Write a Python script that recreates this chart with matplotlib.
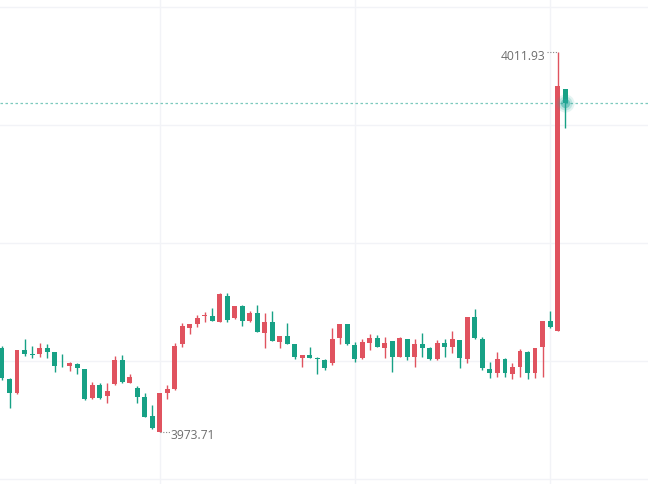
import numpy as np
import matplotlib
matplotlib.use('Agg')
import matplotlib.pyplot as plt

# OHLC values (red = rising, green = falling)
opens = [3982.17, 3979.01, 3977.60, 3981.93, 3981.53, 3981.53, 3982.13, 3981.73, 3980.35, 3980.32,
         3980.53, 3980.02, 3977.10, 3978.41, 3977.30, 3978.51, 3980.93, 3978.64, 3978.11, 3977.23,
         3975.29, 3973.71, 3977.63, 3977.98, 3982.51, 3984.18, 3984.58, 3985.36, 3985.36, 3984.78,
         3987.37, 3985.12, 3986.37, 3984.85, 3985.63, 3983.62, 3984.72, 3982.77, 3983.34, 3982.51,
         3981.16, 3981.43, 3981.16, 3980.93, 3980.66, 3983.17, 3984.55, 3982.44, 3981.10, 3982.67,
         3983.17, 3982.10, 3982.84, 3981.26, 3983.04, 3981.26, 3982.51, 3982.10, 3981.00, 3982.67,
         3982.27, 3982.94, 3981.03, 3985.29, 3983.04, 3980.02, 3979.59, 3981.03, 3979.52, 3980.25,
         3981.70, 3979.65, 3982.20, 3984.85, 3983.88, 4008.18]
highs = [3982.34, 3979.12, 3981.98, 3983.04, 3982.34, 3982.64, 3982.54, 3981.78, 3981.53, 3980.73,
         3980.63, 3980.05, 3978.71, 3978.61, 3978.61, 3981.33, 3981.43, 3979.52, 3978.31, 3977.60,
         3976.40, 3977.60, 3978.41, 3982.61, 3984.62, 3984.58, 3985.46, 3985.79, 3986.19, 3987.64,
         3987.64, 3986.40, 3986.47, 3985.86, 3986.47, 3985.63, 3985.86, 3983.36, 3984.62, 3982.54,
         3981.45, 3982.27, 3981.26, 3981.03, 3984.12, 3984.58, 3984.58, 3982.77, 3983.01, 3983.51,
         3983.44, 3983.27, 3982.87, 3983.20, 3983.07, 3983.04, 3983.62, 3982.27, 3982.94, 3983.01,
         3983.88, 3982.99, 3985.26, 3986.03, 3983.21, 3980.76, 3981.70, 3981.10, 3980.60, 3982.03,
         3981.86, 3982.13, 3984.88, 3985.89, 4011.93, 4008.21]
lows = [3978.91, 3976.13, 3977.55, 3981.33, 3981.13, 3981.23, 3981.13, 3979.72, 3980.27, 3979.82,
        3979.52, 3976.90, 3977.05, 3977.05, 3976.60, 3978.46, 3978.66, 3978.58, 3976.63, 3975.19,
        3973.98, 3973.71, 3976.97, 3977.91, 3982.27, 3983.54, 3984.28, 3984.72, 3984.85, 3984.78,
        3984.78, 3985.10, 3984.38, 3984.80, 3983.70, 3982.17, 3982.81, 3982.17, 3982.50, 3981.03,
        3980.25, 3981.13, 3979.49, 3979.92, 3980.42, 3982.51, 3982.48, 3980.76, 3981.00, 3981.93,
        3982.24, 3981.16, 3979.75, 3981.23, 3980.93, 3980.25, 3981.26, 3980.93, 3980.98, 3981.23,
        3981.66, 3980.15, 3980.66, 3983.09, 3979.92, 3979.15, 3979.25, 3979.19, 3978.98, 3979.25,
        3978.98, 3979.09, 3979.25, 3984.20, 3983.85, 4004.28]
closes = [3979.09, 3977.60, 3981.93, 3981.53, 3981.41, 3982.13, 3981.73, 3980.32, 3980.29, 3980.63,
          3980.12, 3977.00, 3978.41, 3977.10, 3977.81, 3980.93, 3978.71, 3979.25, 3977.23, 3975.22,
          3974.05, 3977.57, 3977.98, 3982.34, 3984.35, 3984.55, 3985.12, 3985.43, 3984.88, 3987.54,
          3984.95, 3986.37, 3984.88, 3985.63, 3983.72, 3984.72, 3982.84, 3983.34, 3982.54, 3981.26,
          3981.43, 3981.16, 3981.03, 3980.09, 3983.04, 3984.55, 3982.51, 3981.03, 3982.77, 3983.17,
          3982.27, 3982.67, 3981.26, 3983.17, 3981.26, 3982.51, 3982.17, 3981.00, 3982.61, 3982.27,
          3983.01, 3981.10, 3985.23, 3983.11, 3980.09, 3979.59, 3981.03, 3979.59, 3980.19, 3981.86,
          3979.59, 3982.10, 3984.85, 3984.22, 4008.46, 4006.83]

grid_prices = [4016.46, 4004.58, 3992.70, 3980.83, 3968.95]
grid_bars = [21, 47, 73]

up_color = '#e0535f'
down_color = '#17a185'

n = len(opens)
x = np.arange(n)
o = np.array(opens); h = np.array(highs); l = np.array(lows); c = np.array(closes)
colors = [up_color if cc >= oo else down_color for oo, cc in zip(o, c)]

fig = plt.figure(figsize=(6.48, 4.84), dpi=100)
ax = fig.add_axes([0, 0, 1, 1])

# grid
for gp in grid_prices:
    ax.axhline(gp, color='#f2f3f7', lw=1, zorder=0)
for gb in grid_bars:
    ax.axvline(gb, color='#f2f3f7', lw=1, zorder=0)

# wicks and bodies
ax.vlines(x, l, h, colors=colors, lw=1, zorder=2)
body_low = np.minimum(o, c)
body_h = np.maximum(np.abs(c - o), 0.08)
ax.bar(x, body_h, bottom=body_low, width=0.66, color=colors, linewidth=0, zorder=3)

# last price line and pulsing dot
last = closes[-1]
ax.axhline(last, color='#7cc9bd', lw=0.9, ls=(0, (2, 2)), zorder=1)
for s, a in [(170, 0.12), (100, 0.2), (45, 0.45)]:
    ax.scatter([n - 1], [last], s=s, color='#26a69a', alpha=a, linewidths=0, zorder=4)

# max / min labels
imax = int(np.argmax(h))
imin = int(np.argmin(l))
ax.plot([imax - 1.35, imax - 0.05], [h[imax], h[imax]], color='#888888', lw=0.8,
        ls=(0, (1, 1.5)), zorder=2)
ax.annotate('%.2f' % h[imax], xy=(imax - 1.6, h[imax]), xytext=(0, -3.5),
            textcoords='offset points', ha='right', va='center', fontsize=8.7,
            color='#6e6e6e', family='Open Sans')
ax.plot([imin + 0.05, imin + 1.35], [l[imin], l[imin]], color='#888888', lw=0.8,
        ls=(0, (1, 1.5)), zorder=2)
ax.annotate('%.2f' % l[imin], xy=(imin + 1.45, l[imin]), xytext=(0, -2.5),
            textcoords='offset points', ha='left', va='center', fontsize=8.7,
            color='#6e6e6e', family='Open Sans')

ax.set_xlim(-0.266, 86.05)
ax.set_ylim(3968.45, 4017.165)
ax.axis('off')

fig.savefig('out.png', dpi=100, facecolor='white')
